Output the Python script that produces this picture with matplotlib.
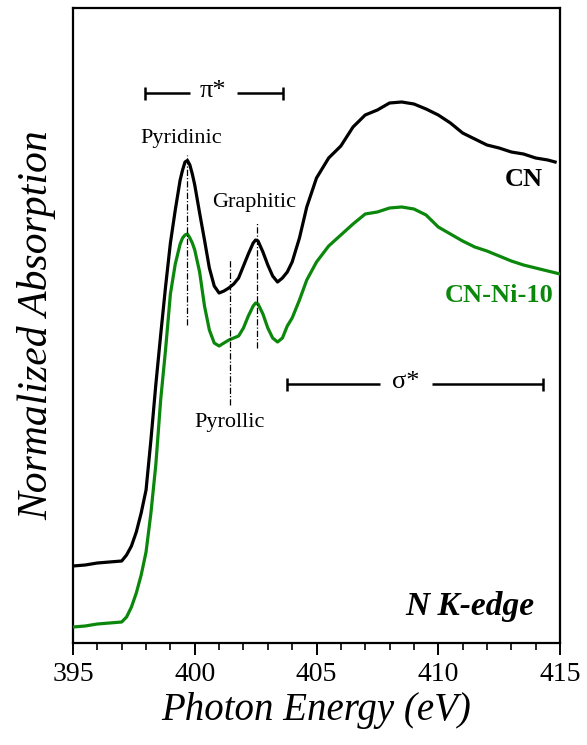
import matplotlib
matplotlib.use("Agg")
import matplotlib.pyplot as plt
from matplotlib.ticker import MultipleLocator

# N K-edge NEXAFS spectra (photon energy in eV, normalized absorption in a.u.)
energy_cn = [395.0, 395.5, 396.0, 396.5, 397.0,
             397.2, 397.4, 397.6, 397.8, 398.0, 398.2, 398.4, 398.6, 398.8, 399.0,
             399.2, 399.4, 399.5, 399.6, 399.7, 399.8, 399.9, 400.0, 400.2, 400.4,
             400.6, 400.8, 401.0, 401.2, 401.4, 401.6, 401.8, 402.0, 402.2, 402.4,
             402.5, 402.6, 402.8, 403.0, 403.2, 403.4, 403.6, 403.8,
             404.0, 404.3, 404.6,
             405.0, 405.5, 406.0, 406.5, 407.0, 407.5, 408.0, 408.5, 409.0, 409.5,
             410.0, 410.5, 411.0, 411.5, 412.0, 412.5, 413.0, 413.5, 414.0, 414.5,
             414.8]
absorb_cn = [0.154, 0.156, 0.160, 0.162, 0.164,
             0.176, 0.194, 0.222, 0.260, 0.306, 0.406, 0.516, 0.616, 0.712, 0.800,
             0.866, 0.926, 0.946, 0.962, 0.965, 0.956, 0.938, 0.916, 0.860, 0.806,
             0.750, 0.714, 0.700, 0.704, 0.710, 0.718, 0.730, 0.754, 0.778, 0.800,
             0.806, 0.804, 0.782, 0.756, 0.734, 0.722, 0.730, 0.742,
             0.762, 0.810, 0.872,
             0.930, 0.970, 0.994, 1.032, 1.056, 1.066, 1.080, 1.082, 1.078, 1.068,
             1.056, 1.040, 1.020, 1.008, 0.996, 0.990, 0.982, 0.978, 0.970, 0.966,
             0.962]

energy_ni = [395.0, 395.5, 396.0, 396.5, 397.0,
             397.2, 397.4, 397.6, 397.8, 398.0, 398.2, 398.4, 398.6, 398.8, 399.0,
             399.2, 399.4, 399.5, 399.6, 399.7, 399.8, 399.9, 400.0, 400.2, 400.4,
             400.6, 400.8, 401.0, 401.2, 401.4, 401.6, 401.8, 402.0, 402.2, 402.4,
             402.5, 402.6, 402.8, 403.0, 403.2, 403.4, 403.6, 403.8,
             404.0, 404.3, 404.6,
             405.0, 405.5, 406.0, 406.5, 407.0, 407.5, 408.0, 408.5, 409.0, 409.5,
             410.0, 410.5, 411.0, 411.5, 412.0, 412.5, 413.0, 413.5, 414.0, 414.5,
             415.0]
absorb_ni = [0.032, 0.034, 0.038, 0.040, 0.042,
             0.052, 0.072, 0.100, 0.136, 0.182, 0.260, 0.356, 0.486, 0.586, 0.698,
             0.758, 0.798, 0.810, 0.816, 0.818, 0.810, 0.800, 0.786, 0.742, 0.674,
             0.626, 0.600, 0.594, 0.600, 0.606, 0.610, 0.614, 0.630, 0.654, 0.674,
             0.680, 0.678, 0.658, 0.630, 0.610, 0.602, 0.610, 0.634,
             0.650, 0.686, 0.726,
             0.762, 0.794, 0.816, 0.838, 0.858, 0.862, 0.870, 0.872, 0.868, 0.856,
             0.832, 0.818, 0.804, 0.792, 0.784, 0.774, 0.764, 0.756, 0.750, 0.744,
             0.738]

# Resonance markers: (label, energy, line top, line bottom, label x, label y)
peaks = [("Pyridinic", 399.67, 0.976, 0.636, 399.44, 1.010),
         ("Graphitic", 402.54, 0.840, 0.590, 402.43, 0.882),
         ("Pyrollic", 401.45, 0.766, 0.476, 401.45, 0.442)]

# Energy ranges of pi* and sigma* transitions
pi_range = (397.96, 403.62)
pi_gap = (399.80, 401.73)
pi_level = 1.100
sigma_range = (403.79, 414.30)
sigma_gap = (407.60, 409.74)
sigma_level = 0.518

xticks = [395, 400, 405, 410, 415]

plt.rcParams["font.family"] = ["Liberation Serif", "DejaVu Serif"]

fig = plt.figure(figsize=(5.87, 7.45), dpi=100)
ax = fig.add_axes([73 / 587, 102 / 745, 487 / 587, 635 / 745])

green = "#0b870b"
ax.plot(energy_cn, absorb_cn, color="black", lw=2.3, solid_joinstyle="round", zorder=3)
ax.plot(energy_ni, absorb_ni, color=green, lw=2.3, solid_joinstyle="round", zorder=3)

dashdot = (0, (5, 1.6, 1, 1.6))
for name, e, top, bot, lx, ly in peaks:
    ax.plot([e, e], [bot, top], color="black", lw=0.9, ls=dashdot, zorder=4)
    ax.text(lx, ly, name, ha="center", va="center", fontsize=16)

cap = 0.013


def range_bar(rng, gap, level, label):
    ax.plot([rng[0], gap[0]], [level, level], color="black", lw=1.8,
            solid_capstyle="butt")
    ax.plot([gap[1], rng[1]], [level, level], color="black", lw=1.8,
            solid_capstyle="butt")
    for x in rng:
        ax.plot([x, x], [level - cap, level + cap], color="black", lw=1.8,
                solid_capstyle="butt")
    ax.text((gap[0] + gap[1]) / 2, level + 0.004, label, ha="center",
            va="center", fontsize=19)


range_bar(pi_range, pi_gap, pi_level, "π*")
range_bar(sigma_range, sigma_gap, sigma_level, "σ*")

ax.text(413.52, 0.926, "CN", ha="center", va="center", fontsize=19,
        fontweight="bold")
ax.text(412.50, 0.696, "CN-Ni-10", ha="center", va="center", fontsize=19,
        fontweight="bold", color=green)
ax.text(411.30, 0.072, "N K-edge", ha="center", va="center", fontsize=24,
        fontweight="bold", fontstyle="italic")

ax.set_xlim(395, 415)
ax.set_ylim(0, 1.27)
ax.set_xticks(xticks)
ax.xaxis.set_minor_locator(MultipleLocator(1))
ax.set_yticks([])
ax.tick_params(axis="x", which="major", direction="out", length=8.5, width=1.4,
               labelsize=20, pad=5)
ax.tick_params(axis="x", which="minor", direction="out", length=5, width=1.2)
for s in ax.spines.values():
    s.set_linewidth(1.6)

ax.set_xlabel("Photon Energy (eV)", fontsize=28, fontstyle="italic", labelpad=4)
ax.set_ylabel("Normalized Absorption", fontsize=30, fontstyle="italic", labelpad=12)

fig.savefig("out.png", dpi=100)
